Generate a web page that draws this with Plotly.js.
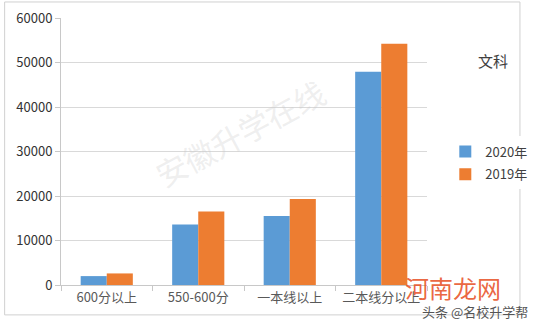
<!DOCTYPE html>
<html><head><meta charset="utf-8">
<script src="https://cdn.plot.ly/plotly-3.0.1.min.js"></script>
<style>html,body{margin:0;padding:0;background:#fff}#c{width:544px;height:326px}</style>
</head><body><div id="c"></div>
<script>
const categories = ["600分以上", "550-600分", "一本线以上", "二本线分以上"];
const seriesNames = ["2020年", "2019年"];
const values2020 = [2000, 13600, 15500, 47900];
const values2019 = [2600, 16500, 19300, 54200];
const yTicks = [0, 10000, 20000, 30000, 40000, 50000, 60000];

const font = "'Noto Sans CJK SC', 'Noto Sans', sans-serif";
const traces = [
  {type:"bar", name:seriesNames[0], legendgroup:"a", x:categories, y:values2020, marker:{color:"#5B9BD5"}},
  {type:"bar", name:seriesNames[1], legendgroup:"b", x:categories, y:values2019, marker:{color:"#ED7D31"}}
];
const layout = {
  width:544, height:326,
  margin:{l:61, r:101, t:18, b:41},
  paper_bgcolor:"#fff", plot_bgcolor:"#fff",
  barmode:"group", bargap:0.43, bargroupgap:0,
  font:{family:font, color:"#404040", size:13},
  xaxis:{type:"category", showline:true, linecolor:"#c8c8c8", linewidth:1,
    ticks:"outside", tickson:"boundaries", ticklen:5, tickcolor:"#c8c8c8",
    tickfont:{size:13, color:"#595959"}, showgrid:false},
  yaxis:{range:[0,60000], tickvals:yTicks, ticktext:yTicks.map(String),
    showline:true, linecolor:"#c8c8c8", ticks:"outside", ticklen:5, tickcolor:"#c8c8c8",
    gridcolor:"#d9d9d9", zeroline:false, tickfont:{size:13, color:"#333"}},
  legend:{x:1.05, y:0.457, xanchor:"left", yanchor:"middle", font:{size:13, color:"#404040"},
    itemwidth:30, traceorder:"grouped", tracegroupgap:3},
  shapes:[{type:"rect", xref:"paper", yref:"paper", x0:-0.154, x1:1.254, y0:-0.112, y1:1.06,
    line:{color:"#d0d0d0", width:1}}],
  annotations:[
    {text:"文科", xref:"paper", yref:"paper", x:1.18, y:0.84, xanchor:"center", yanchor:"middle",
      showarrow:false, font:{size:15, color:"#404040"}},
    {text:"安徽升学在线", xref:"paper", yref:"paper", x:0.49, y:0.57, xanchor:"center", yanchor:"middle",
      showarrow:false, textangle:-28, font:{size:31, color:"rgba(200,200,200,0.3)"}},
    {text:"河南龙网", xref:"paper", yref:"paper", x:1.07, y:-0.01, xanchor:"center", yanchor:"middle",
      showarrow:false, font:{size:24, color:"rgba(232,84,42,0.9)"}},
    {text:"头条 @名校升学帮", xref:"paper", yref:"paper", x:1.13, y:-0.1, xanchor:"center", yanchor:"middle",
      showarrow:false, font:{size:13, color:"#555"}}
  ]
};
Plotly.newPlot("c", traces, layout, {displayModeBar:false, staticPlot:true});
</script></body></html>
